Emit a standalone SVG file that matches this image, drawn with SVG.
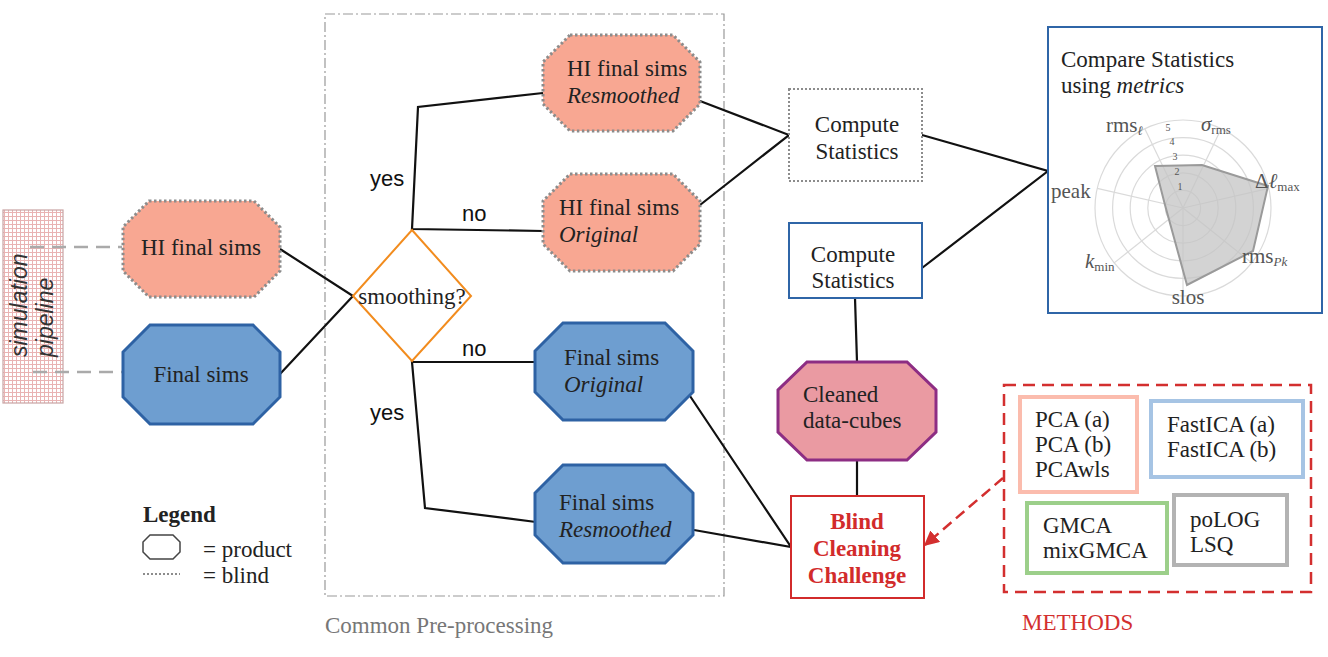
<svg xmlns="http://www.w3.org/2000/svg" width="1328" height="657" viewBox="0 0 1328 657">
<defs>
<pattern id="grid" width="4" height="4" patternUnits="userSpaceOnUse">
<rect width="4" height="4" fill="#ffffff"/>
<path d="M0 0.5H4M0.5 0V4" stroke="#E9B3B3" stroke-width="1"/>
</pattern>
<marker id="redArrow" viewBox="0 0 10 10" refX="9" refY="5" markerWidth="6" markerHeight="6" orient="auto" markerUnits="strokeWidth">
<path d="M0 0L10 5L0 10z" fill="#D32F2F"/>
</marker>
<style>
.t{font-family:"Liberation Serif","Times New Roman",serif;font-size:23px;fill:#222}
.ti{font-family:"Liberation Serif","Times New Roman",serif;font-size:23px;font-style:italic;fill:#222}
.s{font-family:"Liberation Sans",Arial,sans-serif;font-size:22px;fill:#111}
.hi{fill:#F8A792;stroke:#8C8C8C;stroke-width:3;stroke-dasharray:2.5 2.5}
.fs{fill:#6E9ED0;stroke:#2E62A4;stroke-width:3}
.ln{fill:none;stroke:#111;stroke-width:2.2}
.rl{font-family:"Liberation Serif","DejaVu Serif",serif;font-size:21px;fill:#555}
.sub{font-size:13px}
.ring{fill:none;stroke:#DADADA;stroke-width:1.2}
.box{fill:#fff;stroke-width:4}
</style>
</defs>
<rect width="1328" height="657" fill="#ffffff"/>

<g id="common-preprocessing">
<rect x="325" y="14" width="399" height="582" fill="none" stroke="#999" stroke-width="1.2" stroke-dasharray="10 3 2 3"/>
<text x="325" y="633" class="t" style="fill:#777">Common Pre-processing</text>
</g>

<g id="simulation-pipeline">
<rect x="3" y="210" width="60" height="193" fill="url(#grid)" stroke="#C9A3A3" stroke-width="1.2"/>
<text transform="translate(27,357) rotate(-90)" style="font-family:'Liberation Sans',Arial,sans-serif;font-size:23px;font-style:italic;fill:#333">simulation</text>
<text transform="translate(53,357) rotate(-90)" style="font-family:'Liberation Sans',Arial,sans-serif;font-size:23px;font-style:italic;fill:#333">pipeline</text>
</g>

<g id="connectors">
<line x1="30" y1="247" x2="122" y2="247" stroke="#AAAAAA" stroke-width="2.5" stroke-dasharray="14 8"/>
<line x1="33" y1="372" x2="122" y2="372" stroke="#AAAAAA" stroke-width="2.5" stroke-dasharray="14 8"/>
<polyline class="ln" points="280,249 353,296 280,374"/>
<polyline class="ln" points="543,93 418,107 412,229 543,231"/>
<polyline class="ln" points="537,362 412,362 425,508 536,522"/>
<polyline class="ln" points="700,101 789,135 700,205"/>
<polyline class="ln" points="922,135 1048,171 922,268"/>
<line class="ln" x1="855" y1="298" x2="857" y2="362"/>
<line class="ln" x1="857" y1="460" x2="857" y2="496"/>
<polyline class="ln" points="690,396 791,547 694,530"/>
<line x1="1003" y1="478" x2="925" y2="545" stroke="#D32F2F" stroke-width="2.5" stroke-dasharray="11 6" marker-end="url(#redArrow)"/>
</g>

<g id="hi-final-sims">
<polygon class="hi" points="149,201 254,201 280,227 280,271 254,297 149,297 123,271 123,227"/>
<text x="201" y="255" class="t" text-anchor="middle">HI final sims</text>
</g>

<g id="final-sims">
<polygon class="fs" points="150,325 253,325 280,352 280,397 253,424 150,424 123,397 123,352"/>
<text x="201" y="382" class="t" text-anchor="middle">Final sims</text>
</g>

<g id="smoothing">
<polygon points="412,230 471,296 412,361 353,296" fill="#fff" stroke="#F28C1E" stroke-width="2"/>
<text x="412" y="304" class="t" text-anchor="middle">smoothing?</text>
</g>

<g id="labels">
<text x="370" y="186" class="s">yes</text>
<text x="462" y="221" class="s">no</text>
<text x="462" y="356" class="s">no</text>
<text x="370" y="420" class="s">yes</text>
</g>

<g id="hi-resmoothed">
<polygon class="hi" points="570,35 673,35 700,62 700,104 673,131 570,131 543,104 543,62"/>
<text x="567" y="76" class="t">HI final sims</text>
<text x="567" y="103" class="ti">Resmoothed</text>
</g>

<g id="hi-original">
<polygon class="hi" points="570,174 673,174 700,201 700,244 673,271 570,271 543,244 543,201"/>
<text x="559" y="215" class="t">HI final sims</text>
<text x="559" y="242" class="ti">Original</text>
</g>

<g id="final-original">
<polygon class="fs" points="563,323 665,323 693,351 693,392 665,420 563,420 535,392 535,351"/>
<text x="564" y="365" class="t">Final sims</text>
<text x="564" y="392" class="ti">Original</text>
</g>

<g id="final-resmoothed">
<polygon class="fs" points="563,465 665,465 693,493 693,535 665,563 563,563 535,535 535,493"/>
<text x="559" y="510" class="t">Final sims</text>
<text x="559" y="537" class="ti">Resmoothed</text>
</g>

<g id="compute-stats-hi">
<rect x="789" y="89" width="133" height="92" fill="#fff" stroke="#8C8C8C" stroke-width="2" stroke-dasharray="2 2"/>
<text x="857" y="132" class="t" text-anchor="middle">Compute</text>
<text x="857" y="159" class="t" text-anchor="middle">Statistics</text>
</g>

<g id="compute-stats">
<rect x="789" y="223" width="133" height="75" fill="#fff" stroke="#2F65A7" stroke-width="2"/>
<text x="853" y="262" class="t" text-anchor="middle">Compute</text>
<text x="853" y="288" class="t" text-anchor="middle">Statistics</text>
</g>

<g id="cleaned-data-cubes">
<polygon points="807,362 907,362 936,390 936,432 907,460 807,460 778,432 778,390" fill="#EA9AA2" stroke="#8D2D83" stroke-width="3"/>
<text x="803" y="402" class="t">Cleaned</text>
<text x="803" y="428" class="t">data-cubes</text>
</g>

<g id="blind-cleaning-challenge">
<rect x="791" y="496" width="133" height="102" fill="#fff" stroke="#D22B2B" stroke-width="2"/>
<text x="857" y="529" class="t" text-anchor="middle" style="fill:#D22B2B;font-weight:bold">Blind</text>
<text x="857" y="556" class="t" text-anchor="middle" style="fill:#D22B2B;font-weight:bold">Cleaning</text>
<text x="857" y="583" class="t" text-anchor="middle" style="fill:#D22B2B;font-weight:bold">Challenge</text>
</g>

<g id="compare-statistics">
<rect x="1048" y="27" width="274" height="286" fill="#fff" stroke="#2F65A7" stroke-width="2"/>
<text x="1061" y="67" class="t">Compare Statistics</text>
<text x="1061" y="93" class="t">using <tspan font-style="italic">metrics</tspan></text>
<g id="radar">
<circle class="ring" cx="1183" cy="208" r="17.6"/>
<circle class="ring" cx="1183" cy="208" r="35.2"/>
<circle class="ring" cx="1183" cy="208" r="52.8"/>
<circle class="ring" cx="1183" cy="208" r="70.4"/>
<circle class="ring" cx="1183" cy="208" r="88"/>
<g stroke="#DADADA" stroke-width="1.2">
<line x1="1183" y1="208" x2="1183" y2="296"/>
<line x1="1183" y1="208" x2="1114.2" y2="262.9"/>
<line x1="1183" y1="208" x2="1097.2" y2="188.4"/>
<line x1="1183" y1="208" x2="1144.8" y2="128.7"/>
<line x1="1183" y1="208" x2="1221.2" y2="128.7"/>
<line x1="1183" y1="208" x2="1268.8" y2="188.4"/>
<line x1="1183" y1="208" x2="1251.8" y2="262.9"/>
</g>
<polygon points="1155,166 1202,165 1268,186 1253,251 1187,285 1165,205" fill="#C4C4C4" fill-opacity="0.75" stroke="#9A9A9A" stroke-width="2"/>
<g style="font-family:'Liberation Serif',serif;font-size:10px;fill:#555" text-anchor="middle">
<text x="1180" y="190">1</text>
<text x="1177" y="175">2</text>
<text x="1175" y="160">3</text>
<text x="1172" y="145">4</text>
<text x="1168" y="131">5</text>
</g>
<text x="1106" y="132" class="rl">rms<tspan class="sub" dy="3" font-style="italic">ℓ</tspan></text>
<text x="1201" y="131" class="rl"><tspan font-style="italic">σ</tspan><tspan class="sub" dy="3">rms</tspan></text>
<text x="1255" y="188" class="rl">Δ<tspan font-style="italic">ℓ</tspan><tspan class="sub" dy="3">max</tspan></text>
<text x="1242" y="263" class="rl">rms<tspan class="sub" dy="3" font-style="italic">Pk</tspan></text>
<text x="1085" y="268" class="rl"><tspan font-style="italic">k</tspan><tspan class="sub" dy="3">min</tspan></text>
<text x="1188" y="304" class="rl" text-anchor="middle">slos</text>
<text x="1051" y="198" class="rl">peak</text>
</g>
</g>

<g id="methods">
<rect x="1004" y="385" width="307" height="207" fill="none" stroke="#D32F2F" stroke-width="2.5" stroke-dasharray="12 7"/>
<text x="1022" y="630" class="t" style="fill:#D32F2F">METHODS</text>
<g id="pca">
<rect class="box" x="1020" y="397" width="117" height="95" stroke="#FBBCAD"/>
<text x="1035" y="427" class="t">PCA (a)</text>
<text x="1035" y="452" class="t">PCA (b)</text>
<text x="1035" y="477" class="t">PCAwls</text>
</g>
<g id="fastica">
<rect class="box" x="1151" y="401" width="152" height="76" stroke="#A6C4E4"/>
<text x="1167" y="432" class="t">FastICA (a)</text>
<text x="1167" y="457" class="t">FastICA (b)</text>
</g>
<g id="gmca">
<rect class="box" x="1027" y="503" width="140" height="70" stroke="#9CCF8A"/>
<text x="1043" y="533" class="t">GMCA</text>
<text x="1043" y="558" class="t">mixGMCA</text>
</g>
<g id="polog">
<rect class="box" x="1174" y="495" width="113" height="70" stroke="#B3B3B3"/>
<text x="1190" y="527" class="t">poLOG</text>
<text x="1190" y="552" class="t">LSQ</text>
</g>
</g>

<g id="legend">
<text x="143" y="522" class="t" style="font-weight:bold">Legend</text>
<polygon points="150,535 173,535 180,542 180,552 173,559 150,559 143,552 143,542" fill="#fff" stroke="#444" stroke-width="1.5"/>
<text x="203" y="557" class="t">= product</text>
<line x1="143" y1="574" x2="180" y2="574" stroke="#8C8C8C" stroke-width="2" stroke-dasharray="2 2"/>
<text x="203" y="583" class="t">= blind</text>
</g>
</svg>
